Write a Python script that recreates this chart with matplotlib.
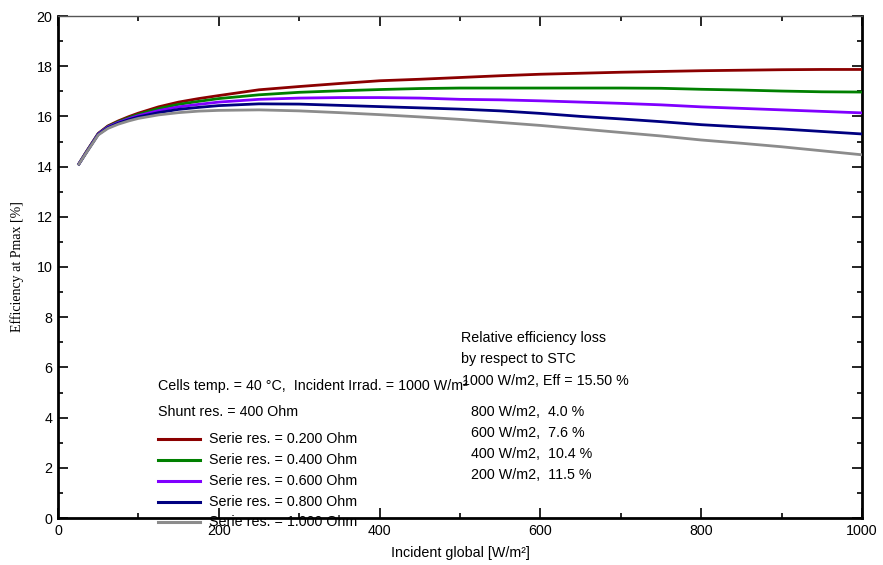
import matplotlib
matplotlib.use("Agg")
import matplotlib.pyplot as plt
from matplotlib.ticker import MultipleLocator
from matplotlib.lines import Line2D

plt.rcParams['font.family'] = ['Liberation Sans', 'DejaVu Sans']

# Incident global irradiance [W/m²]
irradiance = [25, 35, 50, 62, 75, 88, 100, 125, 150, 175, 200, 250, 300, 350, 400,
              450, 500, 550, 600, 650, 700, 750, 800, 850, 900, 950, 1000]

# Efficiency at Pmax [%] for each series resistance
eff_r020 = [14.06, 14.58, 15.32, 15.62, 15.82, 15.99, 16.13, 16.38, 16.57, 16.71,
            16.83, 17.06, 17.19, 17.31, 17.42, 17.48, 17.55, 17.62, 17.68, 17.72,
            17.76, 17.79, 17.82, 17.84, 17.86, 17.87, 17.87]
eff_r040 = [14.06, 14.57, 15.31, 15.60, 15.79, 15.95, 16.08, 16.31, 16.48, 16.60,
            16.71, 16.86, 16.96, 17.02, 17.07, 17.11, 17.13, 17.13, 17.13, 17.13,
            17.13, 17.12, 17.08, 17.05, 17.01, 16.98, 16.97]
eff_r060 = [14.06, 14.56, 15.30, 15.58, 15.76, 15.91, 16.03, 16.23, 16.38, 16.48,
            16.57, 16.68, 16.73, 16.75, 16.75, 16.73, 16.68, 16.66, 16.62, 16.57,
            16.52, 16.46, 16.38, 16.32, 16.26, 16.20, 16.14]
eff_r080 = [14.05, 14.55, 15.28, 15.55, 15.73, 15.87, 15.98, 16.15, 16.28, 16.36,
            16.43, 16.50, 16.49, 16.44, 16.39, 16.34, 16.29, 16.22, 16.12, 16.00,
            15.90, 15.79, 15.67, 15.58, 15.50, 15.40, 15.30]
eff_r100 = [14.05, 14.54, 15.26, 15.52, 15.69, 15.82, 15.92, 16.06, 16.15, 16.21,
            16.24, 16.26, 16.22, 16.15, 16.07, 15.98, 15.88, 15.76, 15.64, 15.50,
            15.36, 15.22, 15.06, 14.93, 14.79, 14.63, 14.47]

series = [eff_r020, eff_r040, eff_r060, eff_r080, eff_r100]
series_labels = ["Serie res. = 0.200 Ohm", "Serie res. = 0.400 Ohm",
                 "Serie res. = 0.600 Ohm", "Serie res. = 0.800 Ohm",
                 "Serie res. = 1.000 Ohm"]
colors = ["#8b0000", "#008000", "#8000ff", "#000080", "#8c8c8c"]

loss_lines = ["800 W/m2,  4.0 %", "600 W/m2,  7.6 %",
              "400 W/m2,  10.4 %", "200 W/m2,  11.5 %"]

FS = 10.3

fig = plt.figure(figsize=(8.83, 5.65), dpi=100)
ax = fig.add_axes([58 / 883, 1 - 518 / 565, (862 - 58) / 883, (518 - 16) / 565])

for ys, c in zip(series, colors):
    ax.plot(irradiance, ys, color=c, lw=2.0, solid_capstyle='butt', zorder=3)

ax.set_xlim(0, 1000)
ax.set_ylim(0, 20)
ax.xaxis.set_major_locator(MultipleLocator(200))
ax.xaxis.set_minor_locator(MultipleLocator(100))
ax.yaxis.set_major_locator(MultipleLocator(2))
ax.yaxis.set_minor_locator(MultipleLocator(1))
ax.tick_params(which='both', direction='in', top=True, right=True,
               colors='black', labelsize=FS, width=1.2)
ax.tick_params(which='major', length=7, pad=4)
ax.tick_params(which='minor', length=3.5)
ax.tick_params(axis='x', which='major', pad=4)

for side in ('left', 'bottom', 'right'):
    ax.spines[side].set_linewidth(2.0)
    ax.spines[side].set_color('black')
ax.spines['top'].set_linewidth(1.0)
ax.spines['top'].set_color('#555555')

ax.set_xlabel("Incident global [W/m²]", fontsize=FS, labelpad=6)
ax.set_ylabel("Efficiency at Pmax [%]", fontsize=10,
              family=['Liberation Serif', 'DejaVu Serif'], labelpad=9)

# Operating conditions
ax.text(125, 5.26, "Cells temp. = 40 °C,  Incident Irrad. = 1000 W/m²",
        fontsize=FS, va='center', ha='left', zorder=4)
ax.text(125, 4.21, "Shunt res. = 400 Ohm", fontsize=FS, va='center', ha='left')

# Series resistance key
key_rows = [3.15, 2.33, 1.49, 0.65, -0.17]
for yk, c, lab in zip(key_rows, colors, series_labels):
    ax.add_line(Line2D([125, 177], [yk, yk], color=c, lw=2.2, clip_on=False))
    ax.text(188, yk, lab, fontsize=FS, va='center', ha='left', clip_on=False)

# Relative efficiency loss block
ax.text(501, 7.17, "Relative efficiency loss", fontsize=FS, va='center', ha='left')
ax.text(501, 6.33, "by respect to STC", fontsize=FS, va='center', ha='left')
ax.text(502, 5.46, "1000 W/m2, Eff = 15.50 %", fontsize=FS, va='center', ha='left')
for yk, t in zip([4.21, 3.37, 2.54, 1.71], loss_lines):
    ax.text(514, yk, t, fontsize=FS, va='center', ha='left')

fig.savefig("out.png", dpi=100)
